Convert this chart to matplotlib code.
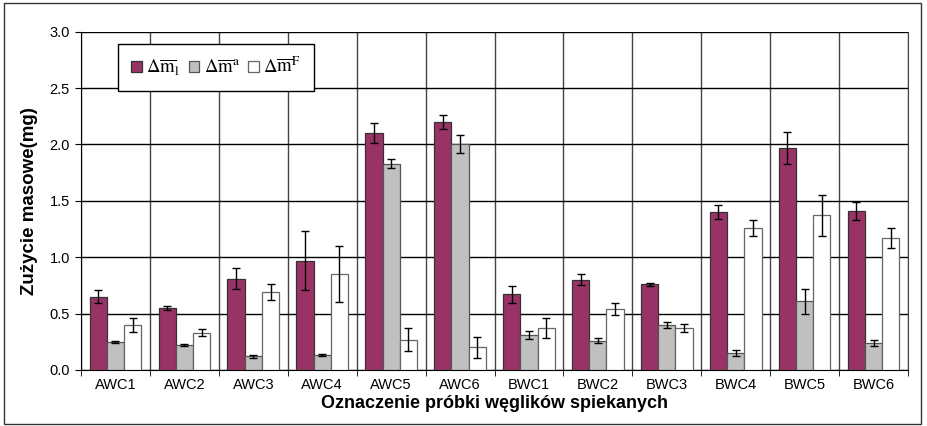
import numpy as np
import matplotlib
matplotlib.use('Agg')
from matplotlib import pyplot as plt
from matplotlib.patches import Rectangle

plt.rcParams['font.family'] = ['Liberation Sans', 'DejaVu Sans']
plt.rcParams['mathtext.fontset'] = 'stix'

samples = ['AWC1', 'AWC2', 'AWC3', 'AWC4', 'AWC5', 'AWC6',
           'BWC1', 'BWC2', 'BWC3', 'BWC4', 'BWC5', 'BWC6']

# srednie zuzycie masowe i odchylenia
dm_l = [0.65, 0.55, 0.81, 0.97, 2.10, 2.20, 0.67, 0.80, 0.76, 1.40, 1.97, 1.41]
err_l = [0.06, 0.02, 0.09, 0.26, 0.09, 0.06, 0.075, 0.05, 0.015, 0.065, 0.14, 0.08]
dm_a = [0.25, 0.22, 0.12, 0.13, 1.83, 2.00, 0.31, 0.26, 0.40, 0.15, 0.61, 0.24]
err_a = [0.01, 0.01, 0.015, 0.01, 0.04, 0.08, 0.035, 0.02, 0.025, 0.025, 0.11, 0.03]
dm_f = [0.40, 0.33, 0.69, 0.85, 0.27, 0.20, 0.37, 0.54, 0.37, 1.26, 1.37, 1.17]
err_f = [0.065, 0.03, 0.07, 0.25, 0.10, 0.095, 0.09, 0.05, 0.035, 0.07, 0.18, 0.085]

labels = [r'$\Delta\overline{\mathrm{m}}_{\mathrm{l}}$',
          r'$\Delta\overline{\mathrm{m}}^{\mathrm{a}}$',
          r'$\Delta\overline{\mathrm{m}}^{\mathrm{F}}$']

fig = plt.figure(figsize=(9.27, 4.26), dpi=100)
ax = fig.add_axes([0.0874, 0.1315, 0.8921, 0.7941])

x = np.arange(len(samples))
w = 0.25
ekw = dict(ecolor='black', elinewidth=1, capsize=3, capthick=1)
ax.bar(x - w, dm_l, w, yerr=err_l, color='#993366', edgecolor='#333333',
       linewidth=0.9, error_kw=ekw, label=labels[0], zorder=3)
ax.bar(x, dm_a, w, yerr=err_a, color='#c0c0c0', edgecolor='#555555',
       linewidth=0.9, error_kw=ekw, label=labels[1], zorder=3)
ax.bar(x + w, dm_f, w, yerr=err_f, color='white', edgecolor='#666666',
       linewidth=0.9, error_kw=ekw, label=labels[2], zorder=3)

ax.set_xlim(-0.5, len(samples) - 0.5)
ax.set_ylim(0, 3.0)
ax.set_yticks(np.arange(0, 3.01, 0.5))
ax.set_yticklabels(['%.1f' % v for v in np.arange(0, 3.01, 0.5)], fontsize=10.5)
ax.set_xticks(x)
ax.set_xticklabels(samples, fontsize=10.5)
ax.tick_params(axis='x', length=0, pad=6)
ax.set_xticks(np.arange(-0.5, len(samples)), minor=True)
ax.tick_params(axis='x', which='minor', length=4, color='black')
ax.tick_params(axis='y', length=4, color='black', pad=4)

ax.grid(axis='y', color='black', linewidth=1, zorder=0)
ax.grid(axis='x', which='minor', color='#444444', linewidth=1, zorder=0)
ax.set_axisbelow(True)
ax.spines['top'].set_visible(False)
ax.spines['left'].set_color('black')
ax.spines['bottom'].set_color('black')
ax.spines['right'].set_color('#444444')

ax.set_ylabel('Zużycie masowe(mg)', fontsize=13.5, fontweight='bold', labelpad=8)
ax.set_xlabel('Oznaczenie próbki węglików spiekanych', fontsize=13,
              fontweight='bold', labelpad=2)

leg = ax.legend(loc='upper left', bbox_to_anchor=(0.045, 0.964), ncol=3,
                fontsize=13.5, frameon=True, fancybox=False, borderaxespad=0,
                handlelength=0.55, handleheight=0.55, handletextpad=0.25,
                columnspacing=0.45, borderpad=0.7)
leg.get_frame().set_edgecolor('black')
leg.get_frame().set_linewidth(1)
leg.get_frame().set_alpha(1)

# ramka wokol calego wykresu
fig.patches.append(Rectangle((0.004, 0.004), 0.99, 0.988, transform=fig.transFigure,
                             fill=False, edgecolor='#333333', linewidth=1))

fig.savefig('out.png', dpi=100)
